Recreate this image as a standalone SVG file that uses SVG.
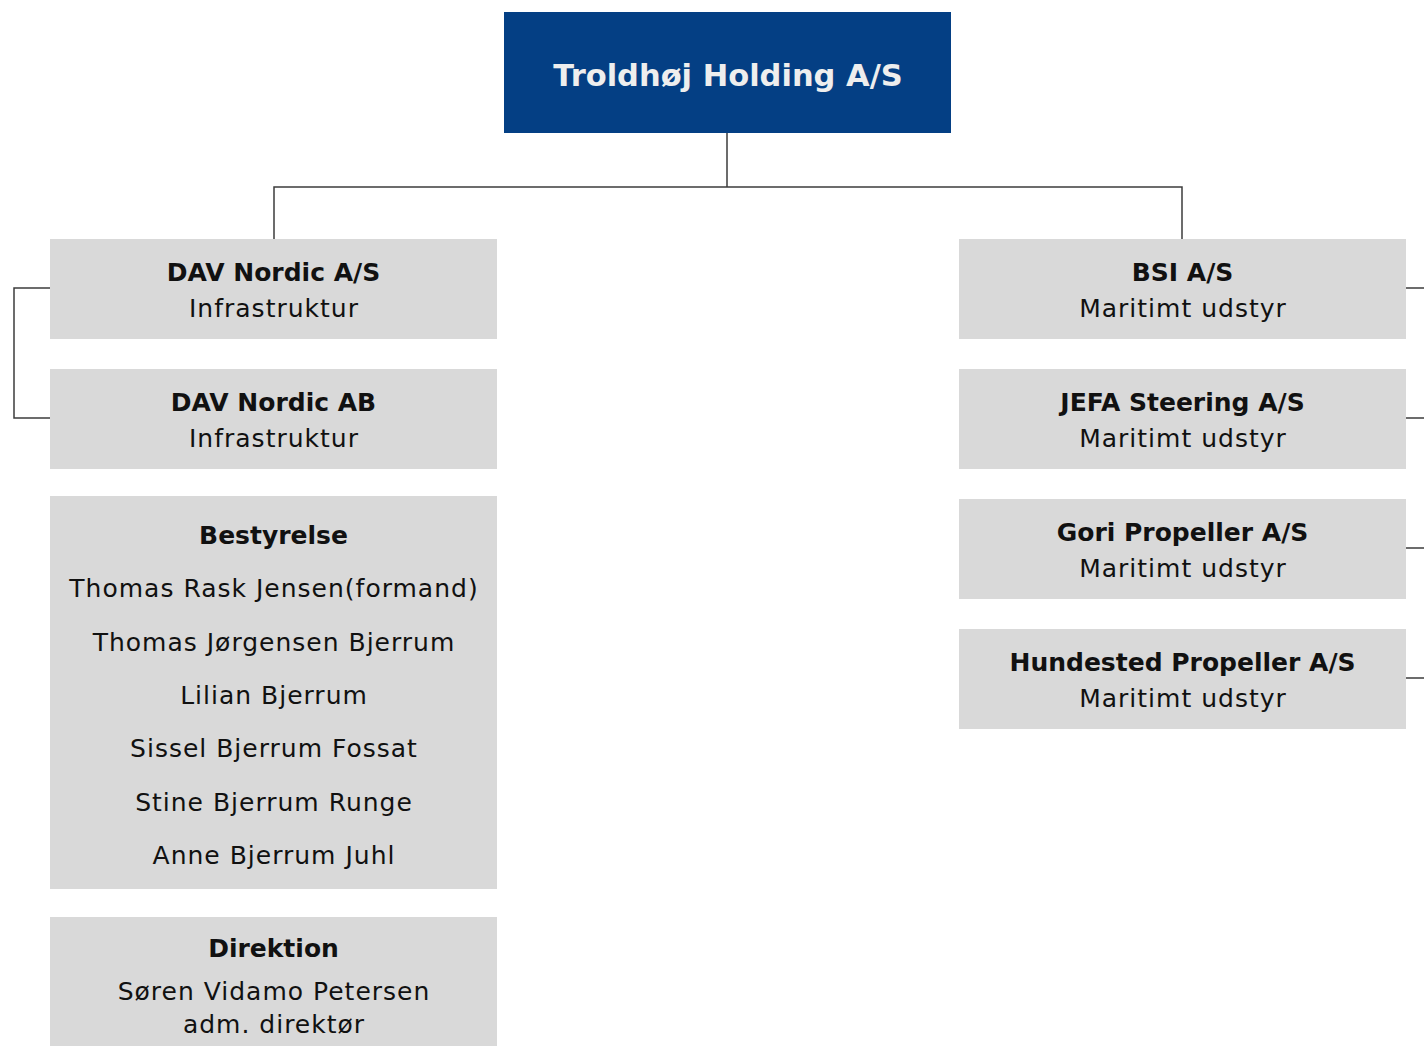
<svg xmlns="http://www.w3.org/2000/svg" width="1424" height="1046" viewBox="0 0 1424 1046">
<style>
.box{fill:#d9d9d9}
.t{font-family:"DejaVu Sans","Liberation Sans",sans-serif;font-size:25px;fill:#111;text-anchor:middle;letter-spacing:1px}
.b{font-weight:bold;letter-spacing:0}
.ln{fill:none;stroke:#3c3c3c;stroke-width:1.5}
</style>
<rect width="1424" height="1046" fill="#fff"/>
<g id="connectors">
<path class="ln" d="M727 133V187M274 239V187H1182V239"/>
<path class="ln" d="M50 288H14V418H50"/>
<path class="ln" d="M1406 288H1424M1406 418H1424M1406 548H1424M1406 678H1424"/>
</g>
<g id="troldhoj">
<rect x="504" y="12" width="447" height="121" fill="#043f84"/>
<text class="t b" x="728" y="86" style="font-size:30.5px;fill:#eeeeee">Troldhøj Holding A/S</text>
</g>
<g id="dav-as">
<rect class="box" x="50" y="239" width="447" height="100"/>
<text class="t b" x="273.5" y="281">DAV Nordic A/S</text>
<text class="t" x="274" y="317">Infrastruktur</text>
</g>
<g id="dav-ab">
<rect class="box" x="50" y="369" width="447" height="100"/>
<text class="t b" x="273.5" y="411">DAV Nordic AB</text>
<text class="t" x="274" y="447">Infrastruktur</text>
</g>
<g id="bestyrelse">
<rect class="box" x="50" y="496" width="447" height="393"/>
<text class="t b" x="273.5" y="544">Bestyrelse</text>
<text class="t" x="274" y="597">Thomas Rask Jensen(formand)</text>
<text class="t" x="274" y="651">Thomas Jørgensen Bjerrum</text>
<text class="t" x="274" y="704">Lilian Bjerrum</text>
<text class="t" x="274" y="757">Sissel Bjerrum Fossat</text>
<text class="t" x="274" y="811">Stine Bjerrum Runge</text>
<text class="t" x="274" y="864">Anne Bjerrum Juhl</text>
</g>
<g id="direktion">
<rect class="box" x="50" y="917" width="447" height="140"/>
<text class="t b" x="273.5" y="957">Direktion</text>
<text class="t" x="274" y="1000">Søren Vidamo Petersen</text>
<text class="t" x="274" y="1033">adm. direktør</text>
</g>
<g id="bsi">
<rect class="box" x="959" y="239" width="447" height="100"/>
<text class="t b" x="1182.5" y="281">BSI A/S</text>
<text class="t" x="1183" y="317">Maritimt udstyr</text>
</g>
<g id="jefa">
<rect class="box" x="959" y="369" width="447" height="100"/>
<text class="t b" x="1182.5" y="411">JEFA Steering A/S</text>
<text class="t" x="1183" y="447">Maritimt udstyr</text>
</g>
<g id="gori">
<rect class="box" x="959" y="499" width="447" height="100"/>
<text class="t b" x="1182.5" y="541">Gori Propeller A/S</text>
<text class="t" x="1183" y="577">Maritimt udstyr</text>
</g>
<g id="hundested">
<rect class="box" x="959" y="629" width="447" height="100"/>
<text class="t b" x="1182.5" y="671">Hundested Propeller A/S</text>
<text class="t" x="1183" y="707">Maritimt udstyr</text>
</g>
</svg>
